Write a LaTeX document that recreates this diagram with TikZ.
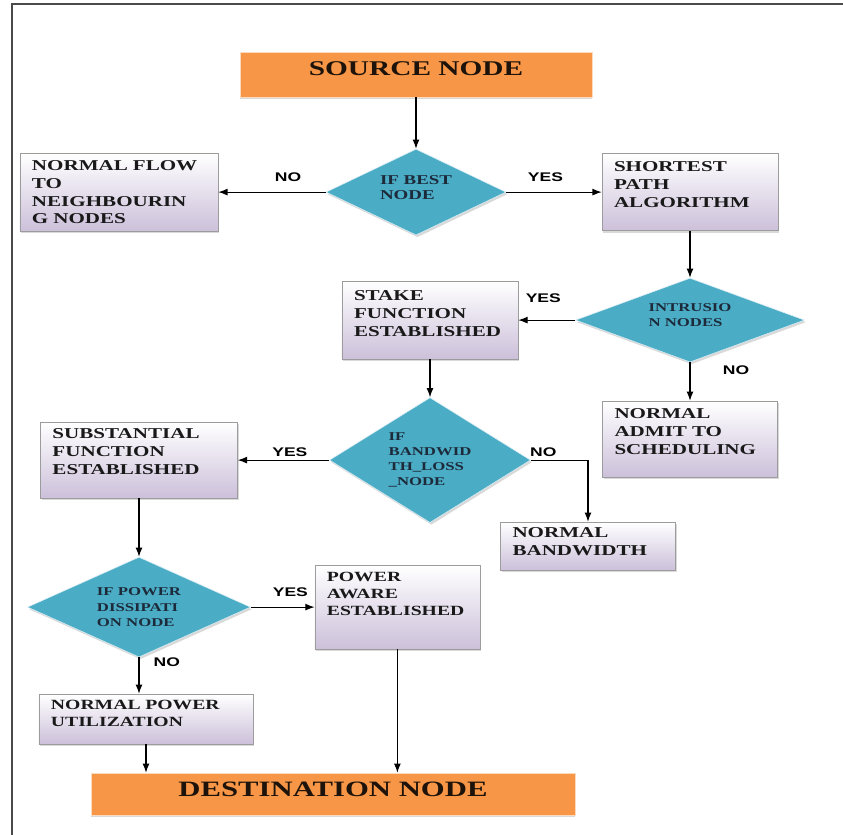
\documentclass[tikz,border=0pt]{standalone}
\usepackage{fontspec}
\setmainfont{Liberation Serif}[FakeStretch=1.4]
\setsansfont{Liberation Sans}[FakeStretch=1.4]
\usetikzlibrary{arrows.meta, positioning, shapes.geometric, shadows}
\definecolor{termorange}{HTML}{F79646}
\definecolor{decteal}{HTML}{4BACC6}
\definecolor{boxlav}{HTML}{CCC0DA}
\definecolor{boxline}{HTML}{9C9C9C}
\definecolor{dectext}{HTML}{1C2A3A}
\definecolor{framegray}{HTML}{4A4A4A}
\uchyph=0

\begin{document}
\begin{tikzpicture}[
    >=Latex,
    block/.style={draw=boxline, rectangle, top color=white, bottom color=boxlav, align=left, inner xsep=0.3cm, inner ysep=2pt, font=\fontsize{10.7}{12.8}\selectfont\bfseries, text=black!90, drop shadow={opacity=0.3, shadow xshift=1pt, shadow yshift=-1.5pt}},
    decision/.style={diamond, draw=white!80!decteal, fill=decteal, aspect=2, inner sep=0pt, align=left, font=\fontsize{8.5}{10.7}\selectfont\bfseries, text=dectext, drop shadow={opacity=0.3, shadow xshift=1pt, shadow yshift=-1.5pt}},
    terminal/.style={rectangle, draw=termorange!35, fill=termorange, inner sep=0pt, font=\fontsize{14.9}{17}\selectfont\bfseries, text=black!85!brown, drop shadow={opacity=0.3, shadow xshift=0pt, shadow yshift=-1.5pt}},
    answer/.style={font=\sffamily\bfseries\fontsize{8.9}{10}\selectfont, inner sep=1pt},
    node distance=3cm
]

    \useasboundingbox (-10.4,-19.0125) rectangle (10.675,1.8625);
    \draw[line width=1.6pt, framegray] (-10.1,-19.0125) |- (10.675,1.7625);

    % Nós principais
    \node[terminal, minimum width=8.8cm, minimum height=1.125cm, text depth=0.3cm] (src) {SOURCE NODE};
    \node[decision, below of=src, node distance=2.94cm, minimum width=4.5cm, minimum height=2.15cm, text depth=0.225cm, font=\fontsize{9.6}{10.7}\selectfont\bfseries] (best) {IF BEST\\NODE};
    \node[block, left of=best, node distance=7.425cm, text width=4.35cm, minimum height=1.95cm] (flow) {NORMAL FLOW\\TO\\NEIGHBOURIN\\G NODES};
    \node[block, right of=best, node distance=6.85cm, text width=3.8cm, minimum height=1.925cm, text depth=1.275cm] (short) {SHORTEST\\PATH\\ALGORITHM};

    % Intrusão
    \node[decision, below of=short, node distance=3.2cm, minimum width=5.725cm, minimum height=2.1cm, text depth=0.25cm] (intr) {INTRUSIO\\N NODES};
    \node[block, left of=intr, node distance=6.5cm, text width=3.8cm, minimum height=1.95cm, text depth=1.25cm] (stake) {STAKE\\FUNCTION\\ESTABLISHED};
    \node[block, below of=intr, node distance=2.975cm, text width=3.775cm, minimum height=1.9cm, text depth=1.275cm] (admit) {NORMAL\\ADMIT TO\\SCHEDULING};

    % Largura de banda
    \node[decision, below of=stake, node distance=3.5cm, minimum width=5.025cm, minimum height=3.125cm] (band) {IF\\BANDWID\\TH\_LOSS\\\_NODE};
    \node[block, left of=band, node distance=7.275cm, text width=4.325cm, minimum height=1.9cm, text depth=1.35cm] (subst) {SUBSTANTIAL\\FUNCTION\\ESTABLISHED};
    \node[block, below of=band, node distance=2.15cm, xshift=3.95cm, text width=3.775cm, minimum height=1.2cm, text depth=0.675cm] (nbw) {NORMAL\\BANDWIDTH};

    % Potência
    \node[decision, below of=subst, node distance=3.675cm, minimum width=5.575cm, minimum height=2.5cm] (power) {IF POWER\\DISSIPATI\\ON NODE};
    \node[block, right of=power, node distance=6.46cm, text width=3.525cm, minimum height=2.1cm, text depth=1.5cm, font=\fontsize{10}{12.1}\selectfont\bfseries] (aware) {POWER\\AWARE\\ESTABLISHED};
    \node[block, below of=power, node distance=2.8cm, xshift=0.175cm, text width=4.75cm, minimum height=1.25cm, text depth=0.725cm, font=\fontsize{10}{12.1}\selectfont\bfseries] (npow) {NORMAL POWER\\UTILIZATION};
    \node[terminal, below of=npow, node distance=1.875cm, xshift=4.675cm, minimum width=12.1cm, minimum height=1.05cm, text depth=0.25cm, font=\fontsize{15.6}{18}\selectfont\bfseries] (dest) {DESTINATION NODE};

    % Conexões
    \draw[->, thick] (src) -- (best);
    \draw[->, thick] (best) -- node[answer, above=6pt, pos=0.35] {NO} (flow);
    \draw[->, thick] (best) -- node[answer, above=6pt, pos=0.41] {YES} (short);
    \draw[->, thick] (short) -- (intr);
    \draw[->, thick] (intr) -- node[answer, above=11pt, pos=0.56] {YES} (stake);
    \draw[->, thick] (intr) -- node[answer, right=22pt, pos=0.2] {NO} (admit);
    \draw[->, thick] (stake) -- (band);
    \draw[->, thick] (band) -- node[answer, above=1pt, pos=0.43] {YES} (subst);
    \draw[->, thick] (band) -| node[answer, above=1pt, pos=0.11] {NO} (nbw);
    \draw[->, thick] (subst) -- (power);
    \draw[->, thick] (power) -- node[answer, above=6pt, pos=0.62] {YES} (aware);
    \draw[->, thick] (power) -- node[answer, right=9pt, pos=0.14] {NO} (power.south |- npow.north);
    \draw[->, thick] (npow) -- (npow.south |- dest.north);
    \draw[->, thick] (aware) -- (aware.south |- dest.north);

\end{tikzpicture}
\end{document}
